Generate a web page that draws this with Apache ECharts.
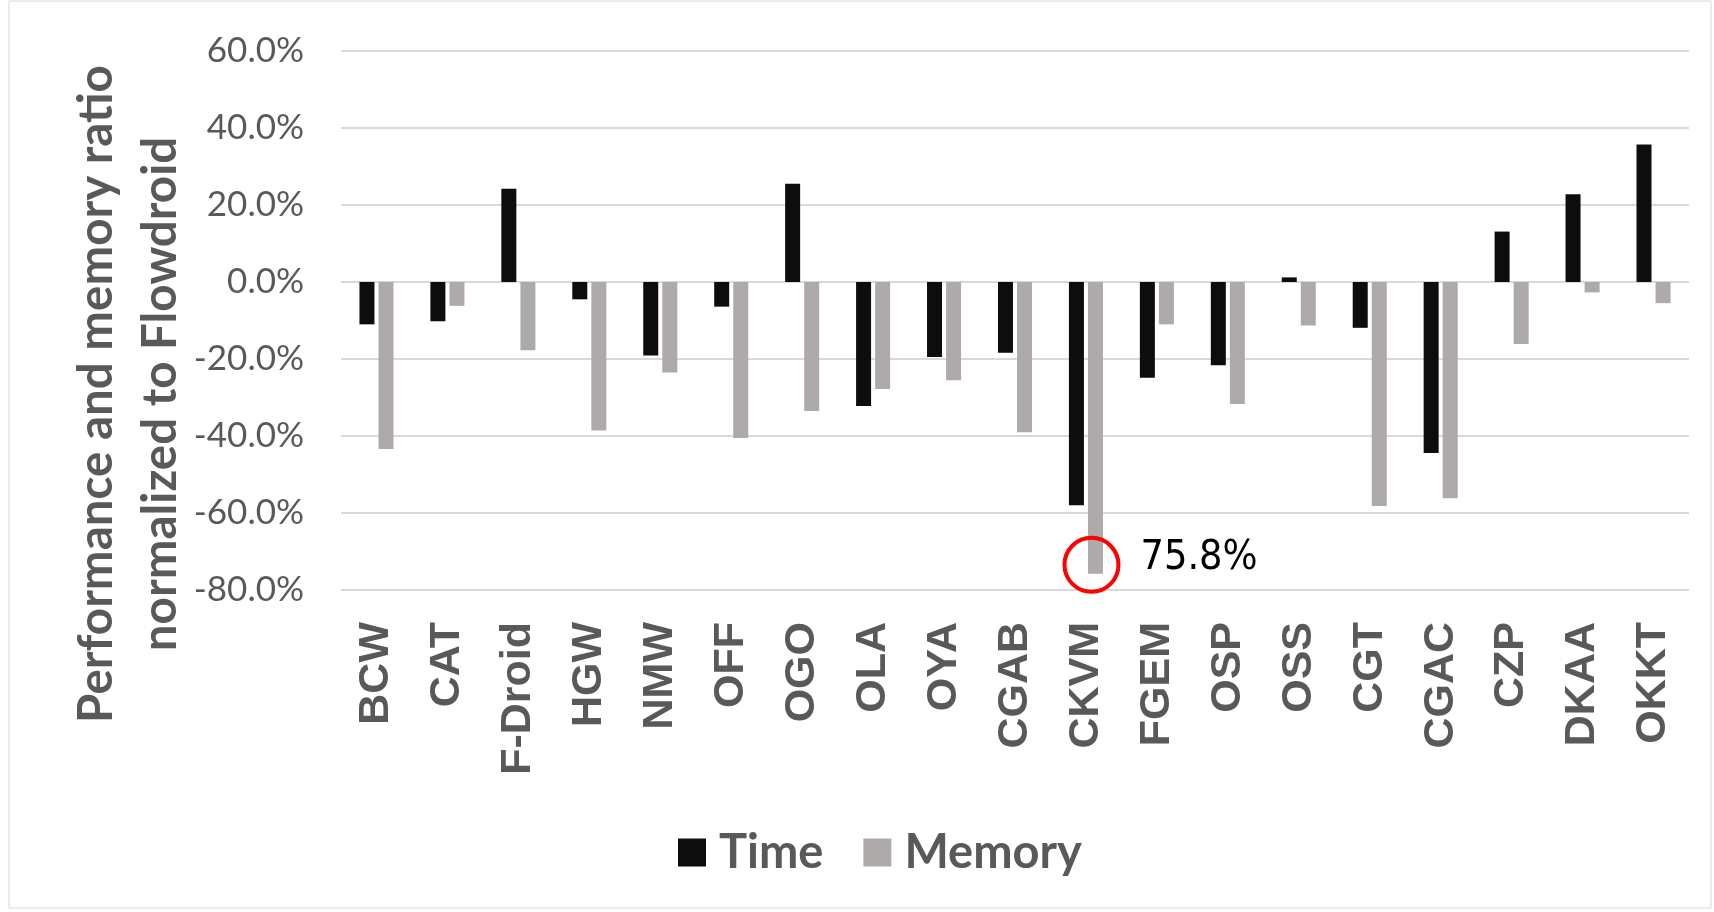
<!DOCTYPE html>
<html>
<head>
<meta charset="utf-8">
<script src="https://cdn.jsdelivr.net/npm/echarts@6/dist/echarts.min.js"></script>
<style>
html,body{margin:0;padding:0;background:#fff;}
#chart{width:1714px;height:912px;}
</style>
</head>
<body>
<div id="chart"></div>
<script>
const categories = ['BCW','CAT','F-Droid','HGW','NMW','OFF','OGO','OLA','OYA','CGAB','CKVM','FGEM','OSP','OSS','CGT','CGAC','CZP','DKAA','OKKT'];
const timeValues = [-11.0,-10.2,24.2,-4.5,-19.1,-6.4,25.5,-32.2,-19.5,-18.4,-58.0,-24.9,-21.6,1.2,-11.9,-44.4,13.1,22.8,35.7];
const memoryValues = [-43.4,-6.2,-17.7,-38.6,-23.5,-40.5,-33.5,-27.8,-25.5,-39.0,-75.8,-11.0,-31.7,-11.3,-58.2,-56.2,-16.1,-2.7,-5.5];
const seriesNames = ['Time','Memory'];
const yMin = -80, yMax = 60, yStep = 20;
const annotCategory = 'CKVM';
const yTitle = 'Performance and memory ratio\nnormalized to Flowdroid';

const annotIndex = categories.indexOf(annotCategory);
const annotValue = memoryValues[annotIndex];

const chart = echarts.init(document.getElementById('chart'));
chart.setOption({
  backgroundColor: '#ffffff',
  animation: false,
  grid: { left: 341, right: 25, top: 51, bottom: 322 },
  legend: {
    data: seriesNames,
    left: 673,
    top: 824,
    itemWidth: 28,
    itemHeight: 28,
    itemGap: 40,
    icon: 'rect',
    textStyle: { fontFamily: 'Lato', fontWeight: 'bold', fontSize: 47, color: '#595959', padding: [0,0,0,8] }
  },
  xAxis: {
    type: 'category',
    data: categories,
    axisLine: { show: false, onZero: false },
    axisTick: { show: false },
    axisLabel: {
      rotate: 90,
      margin: 32,
      interval: 0,
      fontFamily: 'Liberation Sans',
      fontWeight: 'bold',
      fontSize: 43,
      color: '#595959'
    }
  },
  yAxis: {
    type: 'value',
    min: yMin, max: yMax, interval: yStep,
    axisLine: { show: false },
    axisTick: { show: false },
    splitLine: { lineStyle: { color: '#d9d9d9', width: 2 } },
    axisLabel: {
      margin: 37,
      fontFamily: 'Lato',
      fontSize: 35,
      color: '#595959',
      formatter: v => v.toFixed(1) + '%'
    }
  },
  series: [
    {
      name: seriesNames[0], type: 'bar', data: timeValues,
      barWidth: 15, barGap: '27%',
      itemStyle: { color: '#0d0d0d' }
    },
    {
      name: seriesNames[1], type: 'bar', data: memoryValues,
      barWidth: 15, barGap: '27%',
      itemStyle: { color: '#aeaaaa' },
      markPoint: {
        symbol: 'circle',
        symbolSize: 54,
        symbolOffset: [-4, -9],
        itemStyle: { color: 'rgba(0,0,0,0)', borderColor: '#ff0000', borderWidth: 4 },
        label: {
          show: true,
          position: 'right',
          distance: 20,
          offset: [0, -6],
          fontFamily: '"Liberation Sans Narrow","DejaVu Sans Condensed","Liberation Sans",sans-serif',
          fontSize: 41,
          color: '#000000',
          formatter: () => Math.abs(annotValue).toFixed(1) + '%'
        },
        data: [{ coord: [annotCategory, annotValue] }]
      }
    }
  ],
  graphic: [
    {
      type: 'rect', silent: true, z: -10,
      shape: { x: 9, y: 1, width: 1702, height: 907 },
      style: { fill: null, stroke: '#d9d9d9', lineWidth: 1 }
    },
    {
      type: 'text', silent: true,
      x: 129, y: 394, rotation: Math.PI / 2,
      style: {
        text: yTitle,
        fontFamily: 'Lato', fontWeight: 'bold', fontSize: 47.5, lineHeight: 64,
        fill: '#595959', align: 'center', verticalAlign: 'middle'
      }
    }
  ]
});
</script>
</body>
</html>
